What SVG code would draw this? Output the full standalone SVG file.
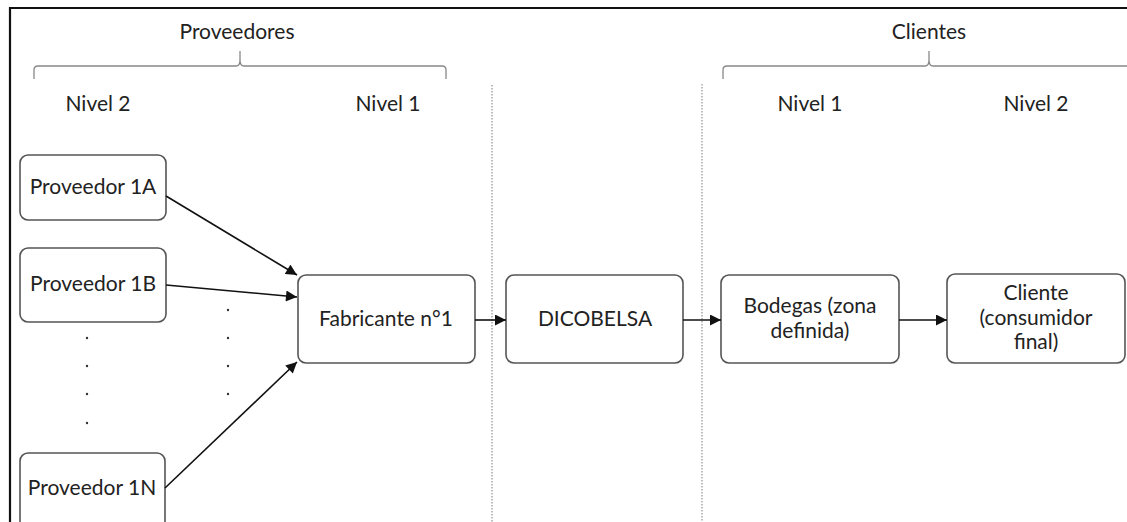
<svg xmlns="http://www.w3.org/2000/svg" width="1127" height="522" viewBox="0 0 1127 522">
<defs>
<style>
text{font-family:Lato,"Open Sans","Liberation Sans",sans-serif;font-size:21px;fill:#222;text-anchor:middle}
.box{fill:#fff;stroke:#555;stroke-width:1.6}
.con{stroke:#111;stroke-width:1.6;fill:none;marker-end:url(#ah)}
.brace{fill:none;stroke:#888;stroke-width:1.3}
.sep{stroke:#999;stroke-width:1.3;stroke-dasharray:1.5 1.5}
.dot{fill:#333}
</style>
<marker id="ah" viewBox="0 0 10 10" refX="10" refY="5" markerWidth="12" markerHeight="11" markerUnits="userSpaceOnUse" orient="auto">
<path d="M0,0 L10,5 L0,10 z" fill="#111"/>
</marker>
</defs>
<rect width="1127" height="522" fill="#fff"/>
<path d="M10,522 V8 H1127" fill="none" stroke="#111" stroke-width="2.2"/>
<g id="separators">
<line class="sep" x1="492" y1="85" x2="492" y2="522"/>
<line class="sep" x1="702" y1="84" x2="702" y2="522"/>
</g>
<g id="brace-proveedores">
<path class="brace" d="M34,79 V70 Q34,66 38,66 H236 Q240,66 240,60 V51 M240,60 Q240,66 244,66 H442 Q446,66 446,70 V79"/>
<text x="237" y="39">Proveedores</text>
</g>
<g id="brace-clientes">
<path class="brace" d="M723,79 V70 Q723,66 727,66 H925 Q929,66 929,60 V51 M929,60 Q929,66 933,66 H1127"/>
<text x="929" y="39">Clientes</text>
</g>
<g id="levels">
<text x="98" y="111">Nivel 2</text>
<text x="388" y="111">Nivel 1</text>
<text x="810" y="111">Nivel 1</text>
<text x="1036" y="111">Nivel 2</text>
</g>
<g id="dots">
<circle class="dot" cx="87" cy="338" r="1.2"/>
<circle class="dot" cx="87" cy="366" r="1.2"/>
<circle class="dot" cx="87" cy="394" r="1.2"/>
<circle class="dot" cx="87" cy="423" r="1.2"/>
<circle class="dot" cx="228" cy="310" r="1.2"/>
<circle class="dot" cx="228" cy="338" r="1.2"/>
<circle class="dot" cx="228" cy="366" r="1.2"/>
<circle class="dot" cx="228" cy="394" r="1.2"/>
</g>
<g id="proveedor-1a">
<rect class="box" x="20" y="155" width="146" height="65" rx="8"/>
<text x="93" y="194">Proveedor 1A</text>
</g>
<g id="proveedor-1b">
<rect class="box" x="20" y="248" width="146" height="74" rx="8"/>
<text x="93" y="291">Proveedor 1B</text>
</g>
<g id="proveedor-1n">
<rect class="box" x="20" y="453" width="145" height="90" rx="8"/>
<text x="92" y="495">Proveedor 1N</text>
</g>
<g id="fabricante">
<rect class="box" x="298" y="275" width="177" height="88" rx="8"/>
<text x="386" y="326">Fabricante n°1</text>
</g>
<g id="dicobelsa">
<rect class="box" x="506" y="275" width="177" height="88" rx="8"/>
<text x="595" y="326">DICOBELSA</text>
</g>
<g id="bodegas">
<rect class="box" x="721" y="275" width="178" height="88" rx="8"/>
<text x="810" y="313">Bodegas (zona</text>
<text x="810" y="338">definida)</text>
</g>
<g id="cliente">
<rect class="box" x="947" y="274" width="178" height="89" rx="8"/>
<text x="1036" y="300">Cliente</text>
<text x="1036" y="325">(consumidor</text>
<text x="1036" y="349">final)</text>
</g>
<g id="connectors">
<line class="con" x1="166" y1="196" x2="297" y2="275"/>
<line class="con" x1="166" y1="285" x2="297" y2="297"/>
<line class="con" x1="165" y1="488" x2="297" y2="362"/>
<line class="con" x1="475" y1="320" x2="506" y2="320"/>
<line class="con" x1="683" y1="320" x2="721" y2="320"/>
<line class="con" x1="899" y1="320" x2="947" y2="320"/>
</g>
</svg>
